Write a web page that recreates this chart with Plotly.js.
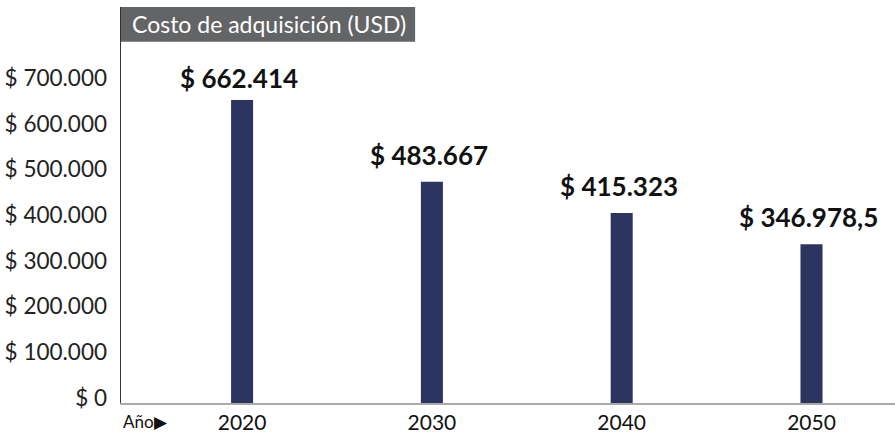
<!DOCTYPE html>
<html><head><meta charset="utf-8">
<script src="https://cdn.plot.ly/plotly-3.0.1.min.js"></script>
<style>html,body{margin:0;padding:0;background:#fff}#chart{width:895px;height:435px}</style>
</head><body><div id="chart"></div>
<script>
const years = ["2020", "2030", "2040", "2050"];
const costs = [662414, 483667, 415323, 346978.5];
const yTicks = [0, 100000, 200000, 300000, 400000, 500000, 600000, 700000];
const titleText = "Costo de adquisición (USD)";
const xLabel = "Año";
const DOLLAR = "&#36;";

function fmt(v){
  const parts = v.toString().split(".");
  const intPart = parts[0].replace(/\B(?=(\d{3})+(?!\d))/g, ".");
  return DOLLAR + " " + intPart + (parts[1] ? "," + parts[1] : "");
}

const FONT = "Lato, 'Noto Sans', sans-serif";
const data = [{
  type: "bar", x: years, y: costs, width: 0.116,
  marker: {color: "#2b3560"}, hoverinfo: "skip"
}];
// labels sit ~8px above bars, but the tallest one is pulled down to stay inside the frame
const annotations = years.map((yr, i) => ({
  x: i, y: costs[i], xref: "x", yref: "y", text: "<b>" + fmt(costs[i]) + "</b>",
  showarrow: false, yanchor: "bottom", yshift: (costs[i] === Math.max(...costs)) ? 4 : 9, xshift: -3,
  font: {family: FONT, size: 26, color: "#111"}
}));
annotations.push({
  xref: "paper", yref: "paper", x: 0.012, y: 0.9565, xanchor: "left", yanchor: "middle",
  text: titleText, showarrow: false, font: {family: FONT, size: 23, color: "#fff"}
});
annotations.push({
  xref: "paper", yref: "paper", x: 0, y: 0, xanchor: "left", yanchor: "top", yshift: -6,
  text: xLabel + "▶", showarrow: false, font: {family: FONT, size: 17, color: "#111"}
});
const yText = yTicks.map(v => fmt(v));
const layout = {
  width: 895, height: 435,
  margin: {l: 121, r: 0, t: 7, b: 32},
  paper_bgcolor: "#fff", plot_bgcolor: "#fff",
  font: {family: FONT, color: "#222"},
  showlegend: false,
  xaxis: {type: "category", range: [-0.638, 3.44], showgrid: false, zeroline: false,
    showline: true, linecolor: "#aaa", linewidth: 1.5, ticks: "",
    tickfont: {family: FONT, size: 21, color: "#111"}, fixedrange: true},
  yaxis: {range: [0, 866000], tickmode: "array", tickvals: yTicks, ticktext: yText,
    showgrid: false, zeroline: false, showline: true, linecolor: "#333", linewidth: 1.5,
    ticks: "outside", ticklen: 8, tickcolor: "rgba(0,0,0,0)", ticklabelshift: -5,
    tickfont: {family: FONT, size: 22.5, color: "#222"}, fixedrange: true},
  shapes: [{type: "rect", xref: "paper", yref: "paper", x0: 0, x1: 0.38, y0: 0.912, y1: 1,
    fillcolor: "#636466", line: {width: 0}, layer: "above"}],
  annotations: annotations
};
Plotly.newPlot("chart", data, layout, {displayModeBar: false, staticPlot: true});
</script></body></html>
